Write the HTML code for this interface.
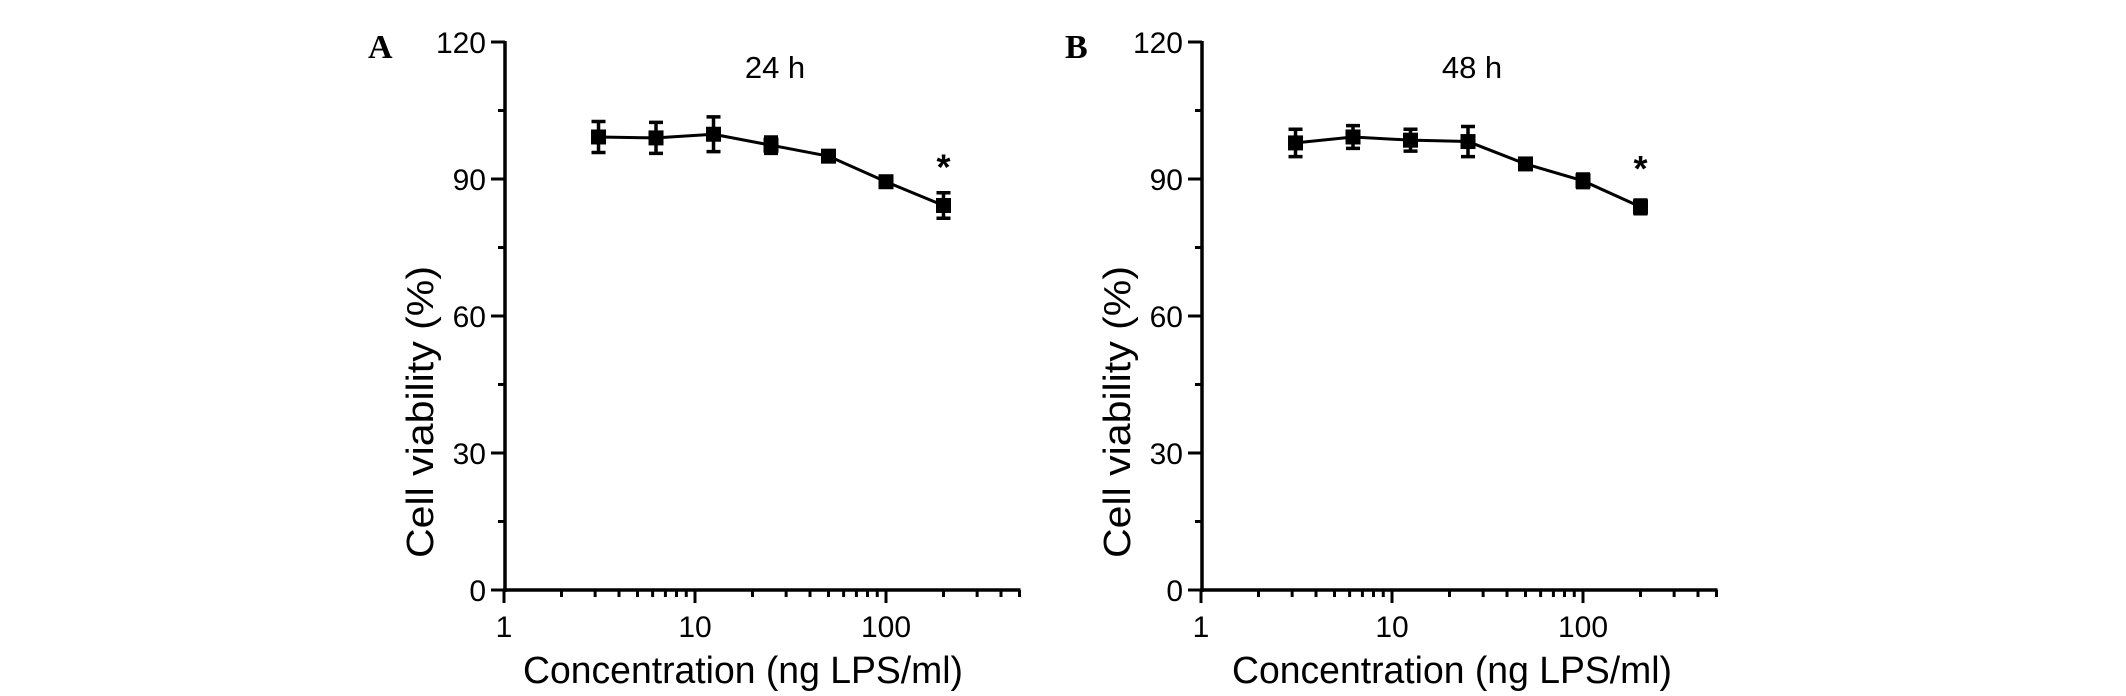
<!DOCTYPE html>
<html><head><meta charset="utf-8"><style>
html,body{margin:0;padding:0;background:#fff;}
svg{display:block;font-family:"Liberation Sans",Arial,sans-serif;}
</style></head><body>
<svg id="chart" width="2126" height="696" viewBox="0 0 2126 696" xmlns="http://www.w3.org/2000/svg"></svg>
<script>
const concA = [3.125, 6.25, 12.5, 25, 50, 100, 200];
const viabA = [99.2, 99.0, 99.8, 97.4, 95.0, 89.4, 84.2];
const errA = [3.4, 3.4, 3.8, 1.8, 0.8, 1.0, 2.8];
const concB = [3.125, 6.25, 12.5, 25, 50, 100, 200];
const viabB = [97.9, 99.2, 98.5, 98.2, 93.3, 89.6, 83.9];
const errB = [3.0, 2.5, 2.4, 3.3, 0.8, 1.5, 1.5];
const yTicks = [0, 30, 60, 90, 120];
const xTickLabels = [1, 10, 100];
const panelTitles = ["24 h", "48 h"];
const panelLetters = ["A", "B"];

const svg = document.getElementById('chart');
const NS = 'http://www.w3.org/2000/svg';
function mk(tag, attrs, parent){
  const e = document.createElementNS(NS, tag);
  for (const k in attrs) e.setAttribute(k, attrs[k]);
  (parent||svg).appendChild(e);
  return e;
}
function panel(ox, conc, viab, err, title, letter, titleDx){
  const g = mk('g', {});
  
  
  const y0 = 590, ppu = 4.5667, dec = 191, xl = ox - 1, xr = xl + dec*Math.log10(500);
  const Y = v => y0 - v*ppu;
  const X = c => xl + dec*Math.log10(c);
  const ya = mk('line', {x1: ox, y1: Y(120)-1, x2: ox, y2: y0+2, stroke:'#000','stroke-width':3.5}, g);
  
  
  const xa = mk('line', {x1: ox-2, y1: y0, x2: xr+1, y2: y0, stroke:'#000','stroke-width':3.5}, g);
  
  
  for (let v = 0; v <= 120; v += 15) {
    const major = v % 30 === 0;
    mk('line', {x1: ox - (major ? 14 : 7), y1: Y(v), x2: ox, y2: Y(v), stroke:'#000','stroke-width':3}, g);
  }
  yTicks.forEach(v => {
    const t = mk('text', {x: ox - 19, y: Y(v) + 11, 'font-size': 30, 'text-anchor':'end'}, g);
    t.textContent = v;
    
    
  });
  for (let d = 0; d < 3; d++) {
    for (let m = 1; m <= 9; m++) {
      const c = Math.pow(10, d) * m;
      if (c > 500) break;
      const major = m === 1;
      const x = X(c);
      mk('line', {x1: x, y1: y0, x2: x, y2: y0 + (major ? 13 : 7), stroke:'#000','stroke-width':3}, g);
    }
  }
  xTickLabels.forEach(c => {
    const t = mk('text', {x: X(c), y: 637, 'font-size': 30, 'text-anchor':'middle'}, g);
    t.textContent = c;
    
    
  });
  const xt = mk('text', {x: ox + titleDx, y: 683, 'font-size': 38, 'text-anchor':'middle', textLength: 440, lengthAdjust:'spacingAndGlyphs'}, g);
  xt.textContent = 'Concentration (ng LPS/ml)';
  
  
  const yt = mk('text', {x: 0, y: 0, 'font-size': 38, 'text-anchor':'middle', textLength: 292, lengthAdjust:'spacingAndGlyphs', transform:`translate(${ox-72},${412}) rotate(-90)`}, g);
  yt.textContent = 'Cell viability (%)';
  
  
  const tt = mk('text', {x: ox + 270, y: 78, 'font-size': 31, 'text-anchor':'middle'}, g);
  tt.textContent = title;
  
  
  const lt = mk('text', {x: ox - 137, y: 58, 'font-size': 34, 'font-weight':'bold', 'font-family':'"Liberation Serif",serif'}, g);
  lt.textContent = letter;
  
  
  const pts = conc.map((c,i) => X(c) + ',' + Y(viab[i])).join(' ');
  const pl = mk('polyline', {points: pts, fill:'none', stroke:'#000','stroke-width':3}, g);
  
  
  conc.forEach((c,i) => {
    const x = X(c), y = Y(viab[i]), e = err[i]*ppu;
    const eb = mk('path', {d:`M${x},${y-e}V${y+e}M${x-7},${y-e}H${x+7}M${x-7},${y+e}H${x+7}`, stroke:'#000','stroke-width':3.5, fill:'none'}, g);
    
    
    const r = mk('rect', {x: x-7.5, y: y-7.5, width: 15, height: 15, fill:'#000'}, g);
    
    
  });
  const last = conc.length - 1;
  const st = mk('text', {x: X(conc[last]), y: Y(viab[last]) - 26, 'font-size': 36, 'font-weight':'bold', 'text-anchor':'middle'}, g);
  st.textContent = '*';
  
  
}
panel(505, concA, viabA, errA, panelTitles[0], panelLetters[0], 238);
panel(1202, concB, viabB, errB, panelTitles[1], panelLetters[1], 250);
</script>
</body></html>
